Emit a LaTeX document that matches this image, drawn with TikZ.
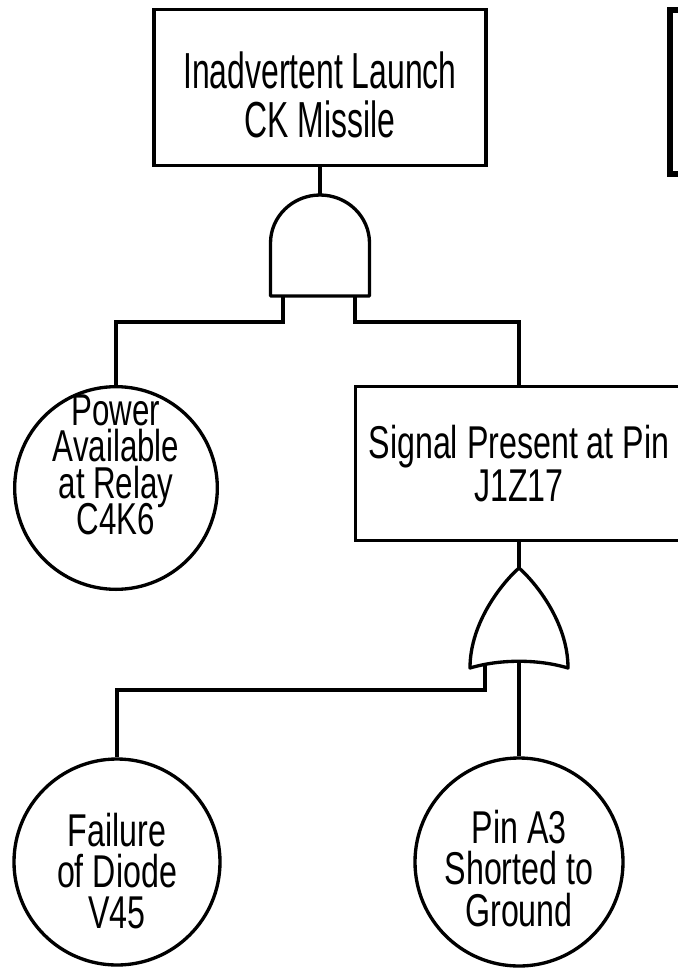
\documentclass[tikz,border=0pt]{standalone}
\usepackage{fontspec}
\setmainfont{Liberation Sans}[FakeStretch=0.7]
\newfontfamily\topfont{Liberation Sans}[FakeStretch=0.63]
\setlength{\lineskiplimit}{-100pt}

\begin{document}
\begin{tikzpicture}[
  x=0.75pt, y=-0.75pt,
  line width=2.5pt,
  event/.style={draw, rectangle, align=center, inner sep=0pt},
  basic/.style={draw, circle, inner sep=0pt},
  lbl/.style={align=center, inner sep=0pt},
  wire/.style={line width=2.5pt},
  gate/.style={line width=2.5pt, line join=round},
]
  \useasboundingbox (0,0) rectangle (678,968);
  \clip (0,0) rectangle (678,968);

  % top event and the box cut off on the right
  \node[event, minimum width=249pt, minimum height=117pt] (launch) at (320,87.5) {};
  \node[lbl, font=\topfont\fontsize{38}{36.75}\selectfont] (launch-txt) at (320,94.5)
    {Inadvertent Launch\\CK Missile};
  \node[draw, line width=4.5pt, minimum width=150pt, minimum height=122.5pt]
    (side) at (770,92) {};

  % AND gate
  \coordinate (and-out) at (320,195);
  \coordinate (and-in1) at (283,296);
  \coordinate (and-in2) at (355,296);
  \draw[gate] (270.5,296) -- (270.5,243)
    .. controls (270.5,216.5) and (292.7,195) .. (and-out)
    .. controls (347.3,195) and (369.5,216.5) .. (369.5,243)
    -- (369.5,296) -- cycle;
  \draw[wire] (launch.south) -- (and-out);

  \node[basic, minimum size=152pt] (power) at (116,488) {};
  \node[lbl, font=\fontsize{33.5}{27.3}\selectfont] (power-txt) at (116,465)
    {Power\\Available\\at Relay\\C4K6};

  \node[event, minimum width=245pt, minimum height=115.5pt,
        font=\fontsize{34.5}{32.25}\selectfont] (signal) at (519,463.5)
    {Signal Present at Pin\\J1Z17};

  \draw[wire] (and-in1) -- ++(0,26) -| (power.north);
  \draw[wire] (and-in2) -- ++(0,26) -| (signal.north);

  % OR gate
  \coordinate (or-out) at (519,568);
  \coordinate (or-in1) at (485,664);
  \coordinate (or-in2) at (519,661);
  \draw[gate] (or-out) .. controls (503,582) and (470,622) .. (470,668)
    .. controls (500,659) and (538,659) .. (568,668)
    .. controls (568,622) and (535,582) .. (or-out) -- cycle;
  \draw[wire] (signal.south) -- (or-out);

  \node[basic, minimum size=154.5pt] (diode) at (117,862) {};
  \node[lbl, font=\fontsize{34.5}{31}\selectfont] (diode-txt) at (117,871)
    {Failure\\of Diode\\V45};
  \node[basic, minimum size=156pt] (pin) at (519,862) {};
  \node[lbl, font=\fontsize{34.5}{31}\selectfont] (pin-txt) at (519,868.5)
    {Pin A3\\Shorted to\\Ground};

  \draw[wire] (or-in1) -- ++(0,26) -| (diode.north);
  \draw[wire] (or-in2) -- (pin.north);
\end{tikzpicture}
\end{document}
